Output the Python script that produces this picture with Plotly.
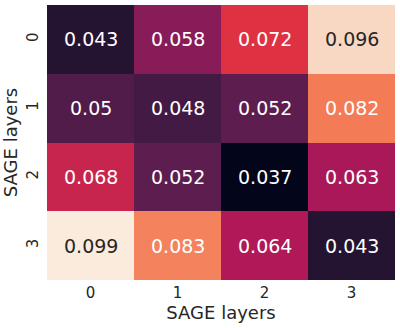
import plotly.graph_objects as go

x_labels = ["0", "1", "2", "3"]
y_labels = ["0", "1", "2", "3"]
values = [
    [0.043, 0.058, 0.072, 0.096],
    [0.050, 0.048, 0.052, 0.082],
    [0.068, 0.052, 0.037, 0.063],
    [0.099, 0.083, 0.064, 0.043],
]
value_text = [
    ["0.043", "0.058", "0.072", "0.096"],
    ["0.05", "0.048", "0.052", "0.082"],
    ["0.068", "0.052", "0.037", "0.063"],
    ["0.099", "0.083", "0.064", "0.043"],
]
x_title = "SAGE layers"
y_title = "SAGE layers"

rocket = [
    [0.0, "#03051a"],
    [1 / 7, "#35193e"],
    [2 / 7, "#701f57"],
    [3 / 7, "#ad1759"],
    [4 / 7, "#e13342"],
    [5 / 7, "#f37651"],
    [6 / 7, "#f6b48f"],
    [1.0, "#faebdd"],
]

vmin = min(min(r) for r in values)
vmax = max(max(r) for r in values)

fig = go.Figure(
    go.Heatmap(
        z=values,
        x=x_labels,
        y=y_labels,
        colorscale=rocket,
        zmin=vmin,
        zmax=vmax,
        showscale=False,
        hoverinfo="skip",
    )
)

for i, yl in enumerate(y_labels):
    for j, xl in enumerate(x_labels):
        frac = (values[i][j] - vmin) / (vmax - vmin)
        color = "#262626" if frac > 0.85 else "white"
        fig.add_annotation(
            x=xl, y=yl, text=value_text[i][j], showarrow=False,
            font=dict(family="DejaVu Sans", size=19, color=color),
        )

fig.update_layout(
    width=400,
    height=328,
    margin=dict(l=47, r=5, t=5, b=48, autoexpand=False),
    paper_bgcolor="white",
    plot_bgcolor="white",
    font=dict(family="DejaVu Sans", color="#262626"),
    xaxis=dict(
        title=dict(text=x_title, font=dict(size=18), standoff=0),
        tickfont=dict(size=15),
        showgrid=False, zeroline=False, ticks="",
        ticklabelstandoff=2,
    ),
    yaxis=dict(
        title=dict(text=y_title, font=dict(size=18), standoff=1),
        tickfont=dict(size=15),
        autorange="reversed",
        tickangle=-90,
        showgrid=False, zeroline=False, ticks="",
        ticklabelstandoff=5,
    ),
)

fig.write_html(
    "out.html",
    config={"displayModeBar": False},
    post_script="document.body.style.margin='0';document.body.style.overflow='hidden';",
)
